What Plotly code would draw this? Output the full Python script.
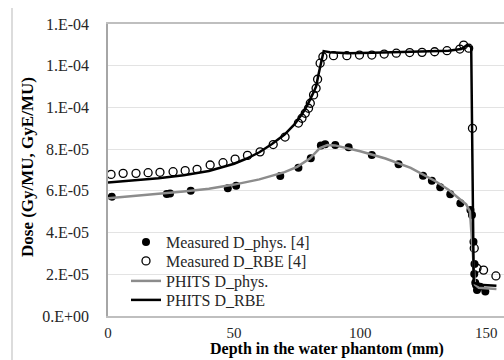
import plotly.graph_objects as go

# Measured D_phys. [4]
meas_phys_x = [1.5, 23.3, 24.6, 32.8, 47.5, 50.8, 68.3, 75.5, 80.4, 84.4, 86.1, 90.1, 95.4,
               104.6, 115.2, 124.9, 128.4, 131.7, 135.7, 139.7, 143.7, 144.3, 144.9, 145.3,
               145.2, 145.6, 145.9, 146.3, 147.5, 149.6]
meas_phys_y = [5.72e-5, 5.85e-5, 5.87e-5, 6.01e-5, 6.12e-5, 6.25e-5, 6.71e-5, 7.11e-5, 7.56e-5,
               8.17e-5, 8.23e-5, 8.20e-5, 8.09e-5, 7.72e-5, 7.27e-5, 6.73e-5, 6.49e-5, 6.17e-5,
               5.84e-5, 5.40e-5, 5.08e-5, 4.84e-5, 3.56e-5, 2.49e-5, 2.01e-5, 1.60e-5, 1.49e-5,
               1.25e-5, 1.40e-5, 1.17e-5]

# Measured D_RBE [4]
meas_rbe_x = [1.2, 6.0, 11.1, 15.9, 20.6, 25.8, 30.6, 35.3, 40.5, 45.6, 50.4, 55.3, 60.3, 65.5,
              70.2, 75.5, 76.9, 78.2, 79.5, 80.2, 81.5, 82.5, 83.1, 84.1, 85.2, 89.4, 94.7, 99.7,
              104.6, 109.5, 114.3, 119.6, 124.5, 129.5, 134.4, 139.5, 141.0, 143.0, 144.5, 145.2,
              146.3, 148.9, 153.8]
meas_rbe_y = [6.79e-5, 6.84e-5, 6.84e-5, 6.87e-5, 6.89e-5, 6.92e-5, 6.97e-5, 7.03e-5, 7.24e-5,
              7.35e-5, 7.52e-5, 7.70e-5, 7.87e-5, 8.22e-5, 8.58e-5, 9.25e-5, 9.48e-5, 9.72e-5,
              9.96e-5, 1.020e-4, 1.060e-4, 1.092e-4, 1.135e-4, 1.212e-4, 1.243e-4, 1.248e-4,
              1.248e-4, 1.251e-4, 1.251e-4, 1.256e-4, 1.260e-4, 1.263e-4, 1.264e-4, 1.267e-4,
              1.272e-4, 1.280e-4, 1.299e-4, 1.284e-4, 9.0e-5, 3.25e-5, 2.29e-5, 2.20e-5, 1.92e-5]

# PHITS D_phys.
phits_phys_x = [0, 10, 20, 30, 40, 50, 60, 70, 75, 80, 84, 87, 90, 95, 100, 110, 120, 130, 135,
                140, 142, 143.5, 144.5, 145.5, 147, 154]
phits_phys_y = [5.65e-5, 5.75e-5, 5.85e-5, 5.97e-5, 6.10e-5, 6.30e-5, 6.55e-5, 6.90e-5, 7.15e-5,
                7.55e-5, 8.05e-5, 8.20e-5, 8.18e-5, 8.05e-5, 7.90e-5, 7.55e-5, 7.10e-5, 6.45e-5,
                6.05e-5, 5.55e-5, 5.35e-5, 5.00e-5, 3.0e-5, 1.5e-5, 1.35e-5, 1.30e-5]

# PHITS D_RBE
phits_rbe_x = [0, 10, 20, 30, 40, 50, 55, 60, 65, 70, 74, 77, 79, 81, 82.5, 83.5, 84.5, 85.5, 88,
               95, 105, 115, 125, 135, 140, 142.5, 144, 144.5, 145, 147, 150, 154]
phits_rbe_y = [6.40e-5, 6.50e-5, 6.60e-5, 6.75e-5, 6.95e-5, 7.30e-5, 7.55e-5, 7.85e-5, 8.25e-5,
               8.70e-5, 9.20e-5, 9.70e-5, 1.01e-4, 1.06e-4, 1.10e-4, 1.16e-4, 1.22e-4, 1.27e-4,
               1.265e-4, 1.26e-4, 1.262e-4, 1.265e-4, 1.268e-4, 1.272e-4, 1.28e-4, 1.30e-4,
               1.29e-4, 5.0e-5, 1.6e-5, 1.5e-5, 1.47e-5, 1.45e-5]

y_tickvals = [0, 2e-5, 4e-5, 6e-5, 8e-5, 1.0e-4, 1.2e-4, 1.4e-4]
y_ticktext = ["0.E+00", "2.E-05", "4.E-05", "6.E-05", "8.E-05", "1.E-04", "1.E-04", "1.E-04"]
x_tickvals = [0, 50, 100, 150]

SERIF = "Liberation Serif, Times New Roman, serif"

fig = go.Figure()
fig.add_trace(go.Scatter(x=meas_phys_x, y=meas_phys_y, mode="markers", name="Measured D_phys. [4]",
                         legend="legend",
                         marker=dict(symbol="circle", size=8, color="black")))
fig.add_trace(go.Scatter(x=meas_rbe_x, y=meas_rbe_y, mode="markers", name="Measured D_RBE [4]",
                         legend="legend2",
                         marker=dict(symbol="circle-open", size=8, color="black", line=dict(width=1.3))))
fig.add_trace(go.Scatter(x=phits_phys_x, y=phits_phys_y, mode="lines", name="PHITS D_phys.",
                         legend="legend3",
                         line=dict(color="#8c8c8c", width=2.5)))
fig.add_trace(go.Scatter(x=phits_rbe_x, y=phits_rbe_y, mode="lines", name="PHITS D_RBE",
                         legend="legend4",
                         line=dict(color="black", width=2.5)))


def leg(py):
    return dict(x=(126 - 108) / 396, y=(316 - py) / 292, xanchor="left", yanchor="middle",
                bgcolor="rgba(0,0,0,0)", borderwidth=0,
                font=dict(family=SERIF, size=16, color="#262626"))


fig.update_layout(
    width=504, height=360,
    margin=dict(l=108, r=0, t=24, b=44),
    paper_bgcolor="white", plot_bgcolor="white",
    font=dict(family=SERIF, color="#262626", size=15),
    showlegend=True,
    legend=leg(242), legend2=leg(261), legend3=leg(281), legend4=leg(300),
    xaxis=dict(range=[0, 157], tickvals=x_tickvals, showgrid=False, zeroline=False,
               showline=True, linecolor="#bfbfbf", linewidth=1.5, mirror=True,
               ticks="", ticklabelstandoff=2, tickfont=dict(size=15)),
    yaxis=dict(range=[0, 1.4e-4], tickvals=y_tickvals, ticktext=y_ticktext,
               showgrid=True, gridcolor="#e3e3e3", gridwidth=1, zeroline=False,
               showline=True, linecolor="#a6a6a6", linewidth=1.5, mirror=False,
               ticks="", ticklabelstandoff=14, tickfont=dict(size=16)),
    annotations=[
        dict(text="<b>Depth in the water phantom (mm)</b>", xref="paper", yref="paper",
             x=(327 - 108) / 396, y=(316 - 360) / 292, showarrow=False,
             xanchor="center", yanchor="bottom", font=dict(family=SERIF, size=16, color="black")),
        dict(text="<b>Dose (Gy/MU, GyE/MU)</b>", xref="paper", yref="paper",
             x=(27 - 108) / 396, y=(316 - 167) / 292, showarrow=False, textangle=-90,
             xanchor="center", yanchor="middle", font=dict(family=SERIF, size=17, color="black")),
    ],
    shapes=[
        dict(type="line", xref="paper", yref="paper",
             x0=(12 - 108) / 396, x1=(12 - 108) / 396, y0=(316 - 8) / 292, y1=(316 - 362) / 292,
             line=dict(color="#d0d0d0", width=1.5)),
    ],
)

fig.write_html("out.html")
